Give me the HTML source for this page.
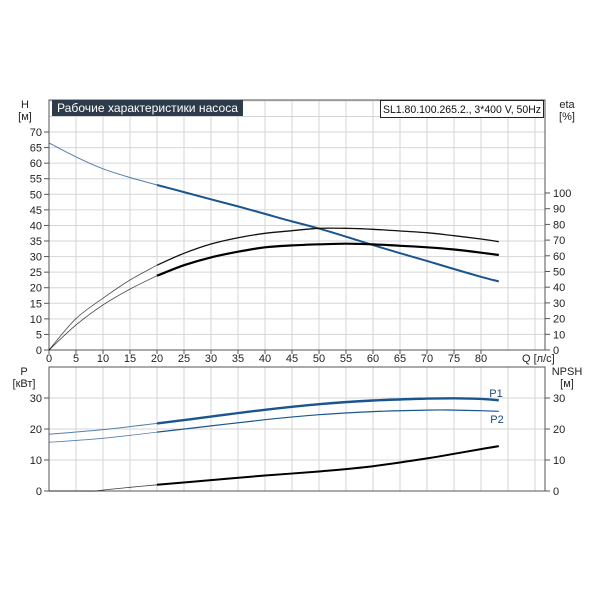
<!DOCTYPE html>
<html><head><meta charset="utf-8"><style>
body{margin:0;background:#fff;}
svg{display:block;font-family:"Liberation Sans",sans-serif;font-size:11px;}
</style></head><body>
<svg id="c" width="600" height="600" xmlns="http://www.w3.org/2000/svg"></svg>
<script>
const qTicks=[0,5,10,15,20,25,30,35,40,45,50,55,60,65,70,75,80];
const hTicks=[0,5,10,15,20,25,30,35,40,45,50,55,60,65,70];
const etaTicks=[0,10,20,30,40,50,60,70,80,90,100];
const pTicks=[0,10,20,30];
const qH=[0,5,10,15,20,25,30,35,40,45,50,55,60,65,70,75,80,83.3];
const hVals=[66.5,62,58.2,55.4,53,50.7,48.4,46.1,43.7,41.3,39,36.4,33.7,31.1,28.6,26,23.5,22];
const qEta=[0,5,10,15,20,25,30,35,40,45,50,55,60,65,70,75,80,83.3];
const eta1=[0,20,33,44.6,54,61.6,67.5,71.5,74.3,76,77.5,77.5,76.9,75.8,74.7,72.8,70.7,69];
const eta2=[0,16,28.7,38.8,47.3,54,59,62.6,65.4,66.6,67.3,67.7,67.3,66.4,65.4,64,62,60.5];
const qP=[0,10,20,30,40,50,60,70,75,80,83.3];
const p1=[18.3,19.8,21.8,24,26.2,28,29.2,29.8,29.9,29.7,29.3];
const p2=[15.7,17,19,21,23,24.6,25.6,26.1,26.1,25.9,25.7];
const qN=[0,5,8.5,10,15,20,30,40,50,60,70,75,80,83.3];
const npsh=[0,0,0,0.3,1.2,2,3.5,5,6.3,8,10.5,12,13.5,14.5];

const svg=document.getElementById('c');
const NS='http://www.w3.org/2000/svg';
const X0=49,X1=545;
const xs=q=>X0+q*5.4;
const yH=h=>350-h*3.114;
const yE=e=>350-e*1.57;
const yP=p=>491-p*3.1;
function el(t,a,parent){const e=document.createElementNS(NS,t);for(const k in a)e.setAttribute(k,a[k]);(parent||svg).appendChild(e);return e;}
function txt(x,y,s,anchor,fill){const t=el('text',{x:x,y:y,'text-anchor':anchor||'start',fill:fill||'#222'});t.textContent=s;return t;}

for(let q=0;q<=90;q+=5){
 const g1=el('line',{x1:xs(q),x2:xs(q),y1:100,y2:350,stroke:'#d6d6d6'});
 
 
 const g2=el('line',{x1:xs(q),x2:xs(q),y1:367,y2:491,stroke:'#d6d6d6'});
 
 
}
for(let h=0;h<=80;h+=5){
 const g=el('line',{x1:X0,x2:X1,y1:yH(h),y2:yH(h),stroke:'#d6d6d6'});
 
 
}
for(let p=0;p<=40;p+=10){
 if(yP(p)<367)continue;
 const g=el('line',{x1:X0,x2:X1,y1:yP(p),y2:yP(p),stroke:'#d6d6d6'});
 
 
}
const f1=el('rect',{x:X0,y:100,width:X1-X0,height:250,fill:'none',stroke:'#555'});


const f2=el('rect',{x:X0,y:367,width:X1-X0,height:124,fill:'none',stroke:'#555'});



qTicks.forEach(q=>{
 el('line',{x1:xs(q),x2:xs(q),y1:350,y2:354,stroke:'#555'});
 const t=txt(xs(q),362,String(q),'middle');
 
 
});
hTicks.forEach(h=>{
 el('line',{x1:44,x2:X0,y1:yH(h),y2:yH(h),stroke:'#555'});
 const t=txt(42,yH(h)+4,String(h),'end');
 
 
});
etaTicks.forEach(e=>{
 el('line',{x1:X1,x2:X1+5,y1:yE(e),y2:yE(e),stroke:'#555'});
 const t=txt(553,yE(e)+4,String(e),'start');
 
 
});
pTicks.forEach(p=>{
 el('line',{x1:44,x2:X0,y1:yP(p),y2:yP(p),stroke:'#555'});
 el('line',{x1:X1,x2:X1+5,y1:yP(p),y2:yP(p),stroke:'#555'});
 const t=txt(42,yP(p)+4,String(p),'end');
 
 
 const t2=txt(553,yP(p)+4,String(p),'start');
 
 
});

[[25,108,'H','middle','y-axis-title'],[25,120,'[м]','middle','y-axis-unit'],[567,108,'eta','middle','eta-axis-title'],[567,120,'[%]','middle','eta-axis-unit'],
 [522,362,'Q [л/с]','start','x-axis-title'],[24,375,'P','middle','p-axis-title'],[24,387,'[кВт]','middle','p-axis-unit'],
 [567,375,'NPSH','middle','npsh-axis-title'],[567,387,'[м]','middle','npsh-axis-unit']].forEach(a=>{
 const t=txt(a[0],a[1],a[2],a[3]);
 
 
});

const tb=el('rect',{x:52,y:100,width:191,height:16,fill:'#2d3b4b'});


const tt=el('text',{x:57,y:112,fill:'#fff','font-size':'12',textLength:'181',lengthAdjust:'spacingAndGlyphs'});tt.textContent='Рабочие характеристики насоса';


const mb=el('rect',{x:380.5,y:100.5,width:163,height:17,fill:'#fff',stroke:'#222'});


const mt=el('text',{x:383,y:113,fill:'#111','font-size':'11',textLength:'158',lengthAdjust:'spacingAndGlyphs'});mt.textContent='SL1.80.100.265.2., 3*400 V, 50Hz';



function smooth(a){
 let d='M'+a[0][0].toFixed(1)+','+a[0][1].toFixed(1);
 for(let i=0;i<a.length-1;i++){
  const p0=a[i-1]||a[i],p1=a[i],p2=a[i+1],p3=a[i+2]||a[i+1];
  const c1=[p1[0]+(p2[0]-p0[0])/6,p1[1]+(p2[1]-p0[1])/6];
  const c2=[p2[0]-(p3[0]-p1[0])/6,p2[1]-(p3[1]-p1[1])/6];
  d+=' C'+c1[0].toFixed(1)+','+c1[1].toFixed(1)+' '+c2[0].toFixed(1)+','+c2[1].toFixed(1)+' '+p2[0].toFixed(1)+','+p2[1].toFixed(1);
 }
 return d;
}
function curve(qs,vs,yf,color,thin,thick,name){
 const pts=qs.map((q,i)=>[xs(q),yf(vs[i])]);
 const thinPts=[],thickPts=[];
 qs.forEach((q,i)=>{if(q<=20)thinPts.push(pts[i]);if(q>=20)thickPts.push(pts[i]);});
 if(thinPts.length>1){const p=el('path',{d:smooth(thinPts),fill:'none',stroke:color,'stroke-width':thin,'stroke-opacity':0.75,'stroke-linejoin':'round'});
  
  }
 const p=el('path',{d:smooth(thickPts),fill:'none',stroke:color,'stroke-width':thick,'stroke-linejoin':'round'});
 
 
}
curve(qH,hVals,yH,'#1a5590',1,2,'head-curve');
curve(qEta,eta1,yE,'#111',0.8,1.3,'efficiency-curve-1');
curve(qEta,eta2,yE,'#000',0.8,2.2,'efficiency-curve-2');
curve(qP,p1,yP,'#1a5590',1,2.4,'power-p1-curve');
curve(qP,p2,yP,'#1a5590',0.8,1.2,'power-p2-curve');
curve(qN,npsh,yP,'#000',0.8,2,'npsh-curve');
const l1=txt(496,397,'P1','middle','#1a4a7a');


const l2=txt(497,423,'P2','middle','#1a4a7a');


</script>
</body></html>
